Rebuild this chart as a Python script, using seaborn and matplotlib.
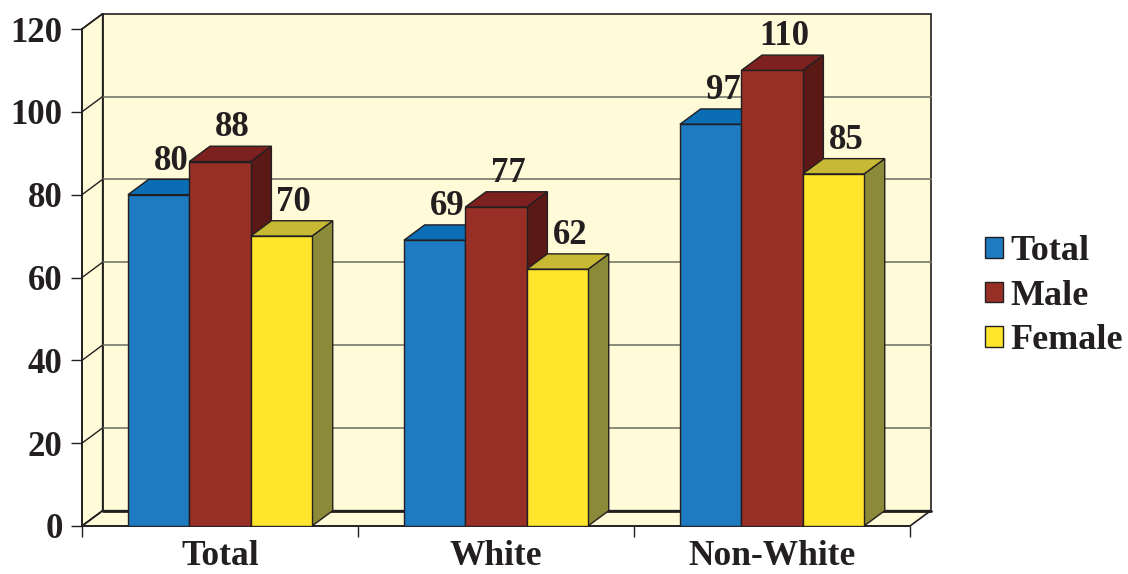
import matplotlib
matplotlib.use("Agg")
import matplotlib.pyplot as plt
from matplotlib.patches import Polygon, Patch
import seaborn as sns
import pandas as pd

# Rates by group and sex
categories = ["Total", "White", "Non-White"]
series = ["Total", "Male", "Female"]
total_vals = [80, 69, 97]
male_vals = [88, 77, 110]
female_vals = [70, 62, 85]
y_ticks = [0, 20, 40, 60, 80, 100, 120]

front_colors = {"Total": "#1f7bc1", "Male": "#972f26", "Female": "#ffe52b"}
top_colors = {"Total": "#0b6db4", "Male": "#7d2020", "Female": "#c8b935"}
side_colors = {"Total": "#135a8f", "Male": "#5b1916", "Female": "#8b8a38"}
wall_color = "#fffbd8"
ink = "#231f20"
grid_color = "#77776a"

rows = []
for name, vals in zip(series, [total_vals, male_vals, female_vals]):
    for cat, v in zip(categories, vals):
        rows.append({"group": cat, "series": name, "value": v})
df = pd.DataFrame(rows)

sns.set_theme(style="white")
plt.rcParams["font.family"] = ["Liberation Serif", "DejaVu Serif"]
plt.rcParams["font.weight"] = "bold"

fig = plt.figure(figsize=(11.28, 5.74), dpi=100)
ax = fig.add_axes([82 / 1128, 48 / 574, 828 / 1128, 497 / 574])
ax.patch.set_visible(False)

sns.barplot(data=df, x="group", y="value", hue="series", order=categories,
            hue_order=series, palette=front_colors, width=0.667, gap=0,
            errorbar=None, legend=False, edgecolor=ink, linewidth=1.0,
            saturation=1, ax=ax)

x0, x1 = -0.5, 2.5
ymax = 120
dx, dy = 0.075, 3.7  # depth offset in data units

ax.set_xlim(x0, x1)
ax.set_ylim(0, ymax)

# Back wall, left side wall and floor
back = Polygon([(x0 + dx, dy), (x1 + dx, dy), (x1 + dx, ymax + dy), (x0 + dx, ymax + dy)],
               closed=True, facecolor=wall_color, edgecolor=ink, lw=1.2,
               clip_on=False, zorder=0.5)
side = Polygon([(x0, 0), (x0, ymax), (x0 + dx, ymax + dy), (x0 + dx, dy)],
               closed=True, facecolor=wall_color, edgecolor=ink, lw=1.2,
               clip_on=False, zorder=0.6)
floor = Polygon([(x0, 0), (x1, 0), (x1 + dx, dy), (x0 + dx, dy)],
                closed=True, facecolor=wall_color, edgecolor=ink, lw=1.2,
                clip_on=False, zorder=0.6)
for p in (back, side, floor):
    ax.add_patch(p)

for v in y_ticks:
    if 0 < v < ymax:
        ax.plot([x0 + dx, x1 + dx], [v + dy, v + dy], color=grid_color, lw=1.2,
                clip_on=False, zorder=0.7)
    ax.plot([x0, x0 + dx], [v, v + dy], color=ink, lw=1.0, clip_on=False, zorder=0.8)
ax.plot([x0 + dx, x1 + dx], [dy, dy], color=ink, lw=2.0, clip_on=False, zorder=0.8)

# 3D tops and sides for each bar, plus value labels
for i, (name, container) in enumerate(zip(series, ax.containers)):
    for bar in container:
        x = bar.get_x()
        w = bar.get_width()
        h = bar.get_height()
        bar.set_zorder(3 + i)
        side_face = Polygon([(x + w, 0), (x + w, h), (x + w + dx, h + dy), (x + w + dx, dy)],
                            closed=True, facecolor=side_colors[name], edgecolor=ink,
                            lw=1.0, zorder=2.6 + i, clip_on=False)
        top_face = Polygon([(x, h), (x + w, h), (x + w + dx, h + dy), (x + dx, h + dy)],
                           closed=True, facecolor=top_colors[name], edgecolor=ink,
                           lw=1.0, zorder=2.7 + i, clip_on=False)
        ax.add_patch(side_face)
        ax.add_patch(top_face)
        ax.annotate(f"{h:.0f}", (x + w / 2 + dx * 0.6, h + dy), xytext=(0, 7),
                    textcoords="offset points", ha="center", va="baseline",
                    fontsize=25, fontweight="bold", color=ink, zorder=10,
                    annotation_clip=False)

# Axes, ticks and labels
for s in ("top", "right"):
    ax.spines[s].set_visible(False)
for s in ("left", "bottom"):
    ax.spines[s].set_color(ink)
    ax.spines[s].set_linewidth(1.2)
    ax.spines[s].set_zorder(1)

ax.set_yticks(y_ticks)
ax.set_yticklabels([str(v) for v in y_ticks])
ax.tick_params(axis="y", direction="out", length=8, width=1, color=ink,
               labelsize=25, labelcolor=ink, pad=6, left=True)
ax.set_xticks(range(len(categories)))
ax.set_xticklabels(categories)
ax.set_xticks([-0.5, 0.5, 1.5, 2.5], minor=True)
ax.tick_params(axis="x", which="major", length=0, labelsize=25.5, labelcolor=ink, pad=10)
ax.tick_params(axis="x", which="minor", direction="out", length=8, width=1,
               color=ink, bottom=True)
for lab in ax.get_xticklabels() + ax.get_yticklabels():
    lab.set_fontweight("bold")
ax.set_xlabel("")
ax.set_ylabel("")

handles = [Patch(facecolor=front_colors[n], edgecolor=ink, lw=1.0, label=n) for n in series]
leg = fig.legend(handles=handles, loc="center left", bbox_to_anchor=(0.873, 0.484),
                 frameon=False, fontsize=26, handlelength=0.5, handleheight=0.5,
                 handletextpad=0.22, labelspacing=0.32, borderpad=0, borderaxespad=0)
for t in leg.get_texts():
    t.set_fontweight("bold")
    t.set_color(ink)

fig.savefig("out.png", dpi=100, facecolor="white")
